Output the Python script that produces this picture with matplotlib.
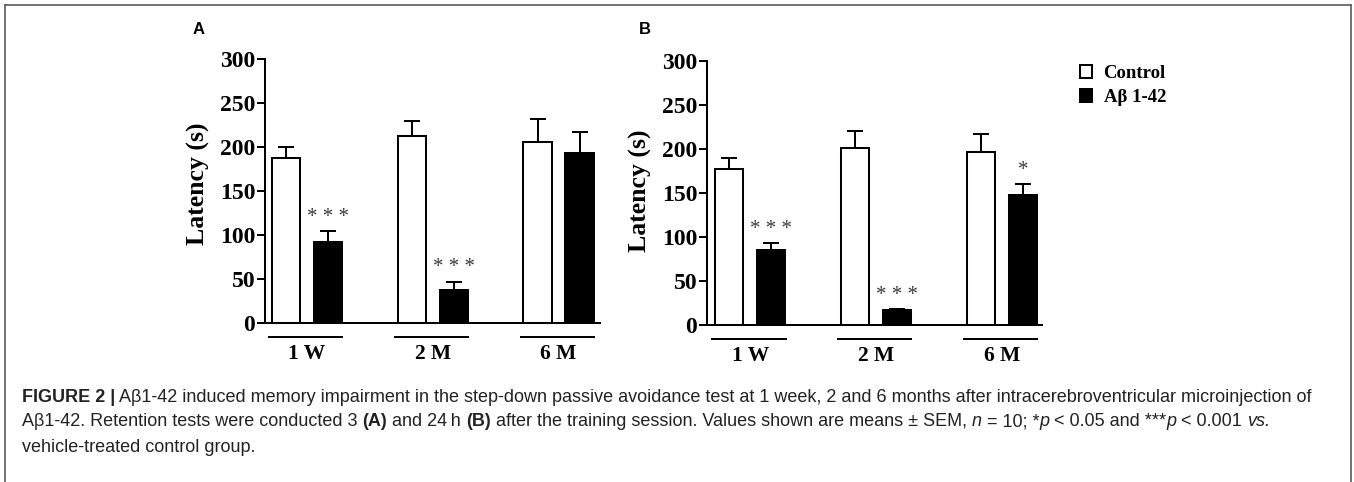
import matplotlib
matplotlib.use("Agg")
import matplotlib.pyplot as plt
from matplotlib.patches import Patch
from matplotlib.lines import Line2D
from matplotlib import font_manager
import numpy as np

# ---------------- data ----------------
groups = ["1 W", "2 M", "6 M"]
series = ["Control", "A\u03b2 1-42"]

a_control = [188, 213, 206]
a_control_err = [12, 16, 26]
a_abeta = [92, 38, 193]
a_abeta_err = [12, 9, 24]
a_stars = ["* * *", "* * *", ""]

b_control = [177, 201, 197]
b_control_err = [13, 19, 20]
b_abeta = [85, 17, 148]
b_abeta_err = [8, 1, 12]
b_stars = ["* * *", "* * *", "*"]

yticks = [0, 50, 100, 150, 200, 250, 300]

# ---------------- figure ----------------
W, H = 1354, 482
DPI = 100
fig = plt.figure(figsize=(W / DPI, H / DPI), dpi=DPI)
fig.patch.set_facecolor("white")

SERIF = "Liberation Serif"
avail = {f.name for f in font_manager.fontManager.ttflist}
CAPF = "Liberation Sans Narrow" if "Liberation Sans Narrow" in avail else "Liberation Sans"


def ax_from_px(left, right, y0, y300):
    return fig.add_axes([left / W, 1 - y0 / H, (right - left) / W, (y0 - y300) / H])


LW = 1.45
BARW = 0.2265
OFF = 0.167


def panel(ax, ctrl, ctrl_err, ab, ab_err, stars, xlim, label_y):
    x = np.arange(len(groups))
    ax.bar(x - OFF, ctrl, BARW, color="white", edgecolor="black", linewidth=LW, zorder=2)
    ax.bar(x + OFF, ab, BARW, color="black", edgecolor="black", linewidth=LW, zorder=2)
    ax.errorbar(x - OFF, ctrl, yerr=[np.zeros(len(ctrl)), ctrl_err], fmt="none",
                ecolor="black", elinewidth=LW, capsize=5.6, capthick=LW, zorder=1)
    ax.errorbar(x + OFF, ab, yerr=[np.zeros(len(ab)), ab_err], fmt="none",
                ecolor="black", elinewidth=LW, capsize=5.6, capthick=LW, zorder=1)
    for xi, v, e, s in zip(x + OFF, ab, ab_err, stars):
        if s:
            ax.text(xi, v + e + 16, s, ha="center", va="center", fontsize=15,
                    family=SERIF, color="#3a3a3a")
    ax.set_xlim(*xlim)
    ax.set_ylim(0, 300)
    ax.set_yticks(yticks)
    ax.set_yticklabels([str(t) for t in yticks], family=SERIF, fontweight="bold", fontsize=17)
    ax.set_xticks(x)
    ax.set_xticklabels(groups, family=SERIF, fontweight="bold", fontsize=15.5)
    ax.tick_params(axis="x", length=0, pad=15)
    ax.tick_params(axis="y", length=6, width=LW, pad=1, direction="out")
    for sp in ["top", "right"]:
        ax.spines[sp].set_visible(False)
    for sp in ["left", "bottom"]:
        ax.spines[sp].set_linewidth(LW)
    ax.set_ylabel("Latency (s)", family=SERIF, fontweight="bold", fontsize=18.5)
    ax.yaxis.set_label_coords(-0.163, label_y)
    trans = ax.get_xaxis_transform()
    for xi in x:
        ax.plot([xi - 0.31, xi + 0.29], [-14 / 264, -14 / 264], color="black",
                lw=LW, transform=trans, clip_on=False, solid_capstyle="butt")


axA = ax_from_px(265, 600, 323, 59)
panel(axA, a_control, a_control_err, a_abeta, a_abeta_err, a_stars, (-0.334, 2.329), 0.527)
axB = ax_from_px(707, 1042, 325, 61)
panel(axB, b_control, b_control_err, b_abeta, b_abeta_err, b_stars, (-0.344, 2.32), 0.51)

fig.text(199 / W, 1 - 30 / H, "A", family="Liberation Sans", fontweight="bold",
         fontsize=12, ha="center", va="center")
fig.text(645 / W, 1 - 29 / H, "B", family="Liberation Sans", fontweight="bold",
         fontsize=12, ha="center", va="center")

handles = [Patch(facecolor="white", edgecolor="black", linewidth=LW),
           Patch(facecolor="black", edgecolor="black", linewidth=LW)]
fs_leg = 13.5
fpx = fs_leg * DPI / 72
fig.legend(handles, series, loc="upper left", bbox_to_anchor=(1080 / W, 1 - 65 / H),
           frameon=False, borderpad=0, borderaxespad=0,
           handlelength=12 / fpx, handleheight=12 / fpx, handletextpad=0.62,
           labelspacing=0.38,
           prop={"family": SERIF, "weight": "bold", "size": fs_leg})

# ---------------- frame ----------------
fc = "#5a5a5a"
fig.add_artist(Line2D([4.5 / W, 4.5 / W], [0, 1 - 4.5 / H], color=fc, lw=1.2))
fig.add_artist(Line2D([4.5 / W, 1350.5 / W], [1 - 4.5 / H, 1 - 4.5 / H], color=fc, lw=1.2))
fig.add_artist(Line2D([1350.5 / W, 1350.5 / W], [0, 1 - 4.5 / H], color=fc, lw=1.2))

# ---------------- caption ----------------
renderer = fig.canvas.get_renderer()


def measure(txt, size, weight, style):
    t1 = fig.text(0, 0, "|" + txt + "|", fontsize=size, fontweight=weight,
                  fontstyle=style, family=CAPF)
    t2 = fig.text(0, 0, "||", fontsize=size, fontweight=weight, fontstyle=style, family=CAPF)
    w = t1.get_window_extent(renderer).width - t2.get_window_extent(renderer).width
    t1.remove()
    t2.remove()
    return w


N, B, I = "normal", "bold", "italic"
line1 = [("FIGURE 2 |", B, N),
         (" A\u03b21-42 induced memory impairment in the step-down passive avoidance test at 1 week, 2 and 6 months after intracerebroventricular microinjection of", N, N)]
line2 = [("A\u03b21-42. Retention tests were conducted 3 ", N, N), ("(A)", B, N),
         (" and 24\u2009h ", N, N), ("(B)", B, N),
         (" after the training session. Values shown are means \u00b1 SEM, ", N, N),
         ("n", N, I), (" = 10; *", N, N), ("p", N, I), (" < 0.05 and ***", N, N),
         ("p", N, I), (" < 0.001 ", N, N), ("vs.", N, I)]
line3 = [("vehicle-treated control group.", N, N)]

base = 10.0
w1 = sum(measure(t, base, wt, st) for t, wt, st in line1)
cap_size = base * 1296 / w1
cap_color = "#222222"


def draw_runs(y_px, runs, x0):
    x = x0
    for txt, wt, st in runs:
        fig.text(x / W, 1 - y_px / H, txt, fontsize=cap_size, fontweight=wt, fontstyle=st,
                 family=[CAPF, "DejaVu Sans"], ha="left", va="center", color=cap_color)
        x += measure(txt, cap_size, wt, st)


draw_runs(397, line1, 22)
draw_runs(422, line2, 22)
draw_runs(447, line3, 22)

fig.savefig("out.png", dpi=DPI, facecolor="white")
